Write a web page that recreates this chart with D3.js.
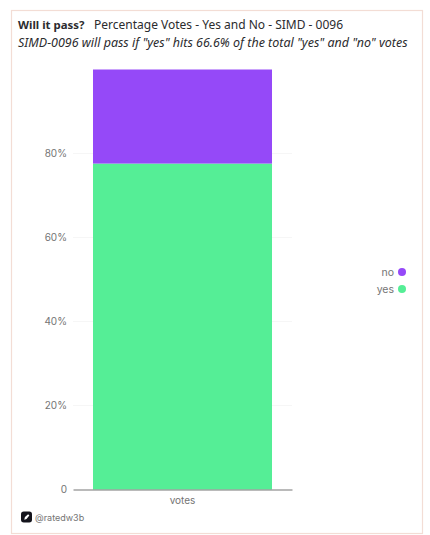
<!DOCTYPE html>
<html>
<head>
<meta charset="utf-8">
<script src="https://cdn.jsdelivr.net/npm/d3@7"></script>
<style>
    html, body { margin: 0; padding: 0; background: #fff; }
    svg { display: block; }
    .title { font-family: "Noto Sans", sans-serif; font-size: 12.47px; fill: #2b2b2e; }
    .tick-label { font-family: Inter, sans-serif; font-size: 10px; fill: #747474; }
</style>
</head>
<body>
<div id="chart"></div>
<script>
const categories = ['votes'];
const seriesNames = ['yes', 'no'];
const yesShare = [77.6];
const noShare = [22.4];
const yTicks = [0, 20, 40, 60, 80];
const legendItems = ['no', 'yes'];

const COLORS = { yes: '#55ee96', no: '#9549f8' };

const width = 430;
const height = 535;

const svg = d3.select('#chart')
    .append('svg')
    .attr('width', width)
    .attr('height', height);

// card outline
svg.append('rect')
    .attr('x', 11.5)
    .attr('y', 10.5)
    .attr('width', 411)
    .attr('height', 523)
    .attr('fill', '#fff')
    .attr('stroke', '#f3ddd5')
    .attr('stroke-width', 1.2);

const header = svg.append('text').attr('class', 'title').attr('x', 18).attr('y', 29);
header.append('tspan').attr('font-weight', 700).style('font-size', '11.4px').text('Will it pass?');
header.append('tspan').attr('x', 94).style('font-size', '12px').text('Percentage Votes - Yes and No - SIMD - 0096');

svg.append('text')
    .attr('class', 'title')
    .attr('x', 18)
    .attr('y', 47)
    .attr('font-style', 'italic')
    .text('SIMD-0096 will pass if "yes" hits 66.6% of the total "yes" and "no" votes');

const x = d3.scaleBand()
    .domain(categories)
    .range([73, 292])
    .paddingInner(0)
    .paddingOuter(0.1117);

const y = d3.scaleLinear()
    .domain([0, 100])
    .range([489.5, 69.5]);

// faint gridlines behind the bar
svg.append('g')
    .selectAll('line')
    .data(yTicks.filter((d) => d > 0))
    .join('line')
    .attr('x1', 73)
    .attr('x2', 292)
    .attr('y1', (d) => y(d))
    .attr('y2', (d) => y(d))
    .attr('stroke', '#f6f6f6');

const stacked = d3.stack().keys(seriesNames)(
    categories.map((c, i) => ({ category: c, yes: yesShare[i], no: noShare[i] }))
);

svg.append('g')
    .selectAll('g')
    .data(stacked)
    .join('g')
    .attr('fill', (s) => COLORS[s.key])
    .selectAll('rect')
    .data((s) => s)
    .join('rect')
    .attr('x', (d) => x(d.data.category))
    .attr('width', x.bandwidth())
    .attr('y', (d) => y(d[1]))
    .attr('height', (d) => y(d[0]) - y(d[1]));

// y axis labels only, the domain and tick marks are not drawn
const yAxis = svg.append('g')
    .attr('transform', 'translate(67,0)')
    .call(d3.axisLeft(y)
        .tickValues(yTicks)
        .tickSize(0)
        .tickPadding(0)
        .tickFormat((d) => (d === 0 ? '0' : `${d}%`)));
yAxis.select('.domain').remove();
yAxis.selectAll('text').attr('class', 'tick-label').attr('font-family', null).attr('font-size', null);

const xAxis = svg.append('g')
    .attr('transform', `translate(0,${y(0)})`)
    .call(d3.axisBottom(x).tickSize(0).tickPadding(7));
xAxis.select('.domain').attr('stroke', '#777').attr('stroke-width', 1.2);
xAxis.selectAll('text').attr('class', 'tick-label').attr('font-family', null).attr('font-size', null);

const legendY = d3.scalePoint().domain(legendItems).range([272, 289]);

const legend = svg.append('g')
    .selectAll('g')
    .data(legendItems)
    .join('g')
    .attr('transform', (d) => `translate(0,${legendY(d)})`);

legend.append('text')
    .attr('class', 'tick-label')
    .attr('x', 394)
    .attr('dy', '0.35em')
    .attr('text-anchor', 'end')
    .style('font-size', '10.5px')
    .text((d) => d);

legend.append('circle')
    .attr('cx', 402)
    .attr('r', 4)
    .attr('fill', (d) => COLORS[d]);

// watermark
const mark = svg.append('g').attr('transform', 'translate(21,511.5) scale(1.1)');
mark.append('rect')
    .attr('width', 10)
    .attr('height', 10)
    .attr('rx', 2.5)
    .attr('fill', '#14141c');
mark.append('path')
    .attr('d', 'M3 7.5 L3.6 5 L6.5 2.5 L7.6 3.6 L5 6.8 Z')
    .attr('fill', '#fff');

svg.append('text')
    .attr('class', 'tick-label')
    .attr('x', 35)
    .attr('y', 521)
    .style('font-size', '9px')
    .text('@ratedw3b');
</script>
</body>
</html>
